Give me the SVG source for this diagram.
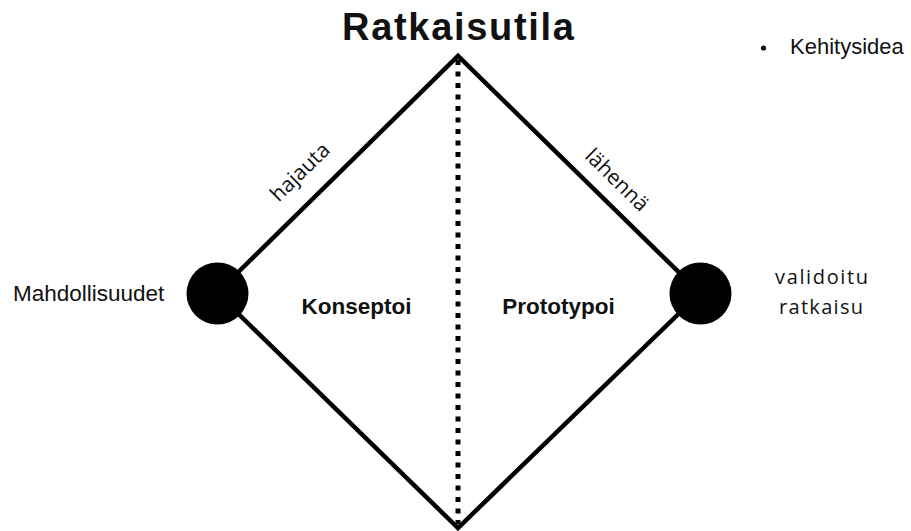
<svg xmlns="http://www.w3.org/2000/svg" width="911" height="531" viewBox="0 0 911 531">
  <style>
    .sans { font-family: "Liberation Sans", Arial, sans-serif; fill: #111; }
    .geo { font-family: "Open Sans", "Liberation Sans", sans-serif; fill: #111; font-size: 20px; }
    .edge { fill: none; stroke: #000; stroke-width: 4.5; stroke-linejoin: miter; }
    .node { fill: #000; }
  </style>
  <rect width="911" height="531" fill="#ffffff"/>
  <g id="diamond">
    <polygon points="217,293 458,56 700,293 458,528" fill="#FCFAF1" class="edge"/>
  </g>
  <g id="connectors">
    <line x1="458" y1="60" x2="458" y2="524" stroke="#000" stroke-width="5" stroke-dasharray="5 6.5"/>
  </g>
  <g id="title">
    <text class="sans" x="458" y="40" font-size="38" font-weight="bold" text-anchor="middle" textLength="232" lengthAdjust="spacing">Ratkaisutila</text>
  </g>
  <g id="legend">
    <circle cx="763.5" cy="48" r="2.6" fill="#111"/>
    <text class="sans" x="790" y="54" font-size="22">Kehitysidea</text>
  </g>
  <g id="node-mahdollisuudet">
    <circle class="node" cx="217.5" cy="293.5" r="31"/>
    <text class="sans" x="13" y="301" font-size="22.5">Mahdollisuudet</text>
  </g>
  <g id="node-validoitu">
    <circle class="node" cx="700.5" cy="293.5" r="31"/>
    <text class="geo" x="821.5" y="284" text-anchor="middle" textLength="93" lengthAdjust="spacing">validoitu</text>
    <text class="geo" x="821" y="314" text-anchor="middle" textLength="84" lengthAdjust="spacing">ratkaisu</text>
  </g>
  <g id="phase-konseptoi">
    <text class="sans" x="356.5" y="314" font-size="22.5" font-weight="bold" text-anchor="middle">Konseptoi</text>
  </g>
  <g id="phase-prototypoi">
    <text class="sans" x="558.5" y="314" font-size="22.5" font-weight="bold" text-anchor="middle">Prototypoi</text>
  </g>
  <g id="label-hajauta">
    <text class="geo" transform="translate(305,177) rotate(-44.5)" text-anchor="middle" font-size="21" style="font-size:21px">hajauta</text>
  </g>
  <g id="label-lahenna">
    <text class="geo" transform="translate(612,185) rotate(44.5)" text-anchor="middle" style="font-size:21px">lähennä</text>
  </g>
</svg>
